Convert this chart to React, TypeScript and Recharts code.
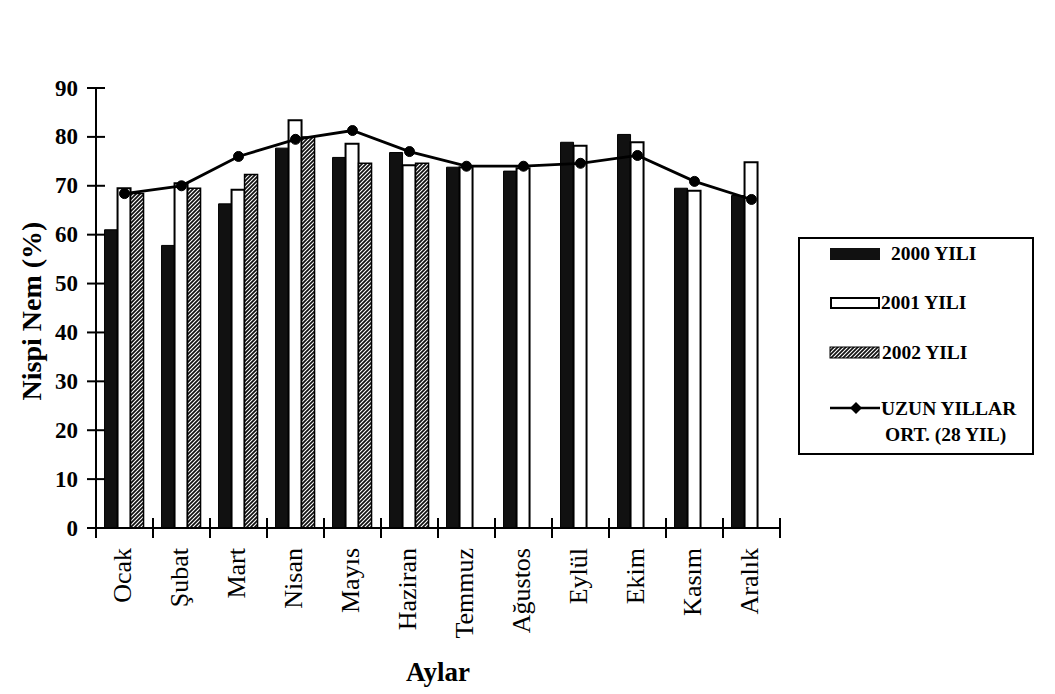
import React from 'react';
import { ComposedChart, Bar, Line, XAxis, YAxis, Legend, Label } from 'recharts';

const months = ['Ocak', 'Şubat', 'Mart', 'Nisan', 'Mayıs', 'Haziran', 'Temmuz', 'Ağustos', 'Eylül', 'Ekim', 'Kasım', 'Aralık'];
const y2000 = [61, 57.8, 66.3, 77.7, 75.8, 76.8, 73.8, 73, 78.9, 80.5, 69.5, 68];
const y2001 = [69.5, 70.5, 69.2, 83.4, 78.6, 74.2, 73.8, 73.6, 78.2, 78.9, 69, 74.8];
const y2002 = [68.4, 69.5, 72.3, 80, 74.6, 74.6, null, null, null, null, null, null];
const longTerm = [68.4, 70, 76, 79.5, 81.3, 77, 74, 74, 74.6, 76.2, 70.9, 67.2];
const yTicks = [0, 10, 20, 30, 40, 50, 60, 70, 80, 90];
const seriesNames = ['2000 YILI', '2001 YILI', '2002 YILI', 'UZUN YILLAR', 'ORT. (28 YIL)'];
const yTitle = 'Nispi Nem (%)';
const xTitle = 'Aylar';

const data = months.map((m, i) => ({ month: m, a: y2000[i], b: y2001[i], c: y2002[i], d: longTerm[i] }));

const FONT = '"Liberation Serif", "Times New Roman", serif';
const W = 1040;
const H = 680;
const M = { top: 80, right: 268, left: 0, bottom: 10 };
const YW = 88;
const XH = 150;
const PLOT_W = W - M.left - M.right - YW;
const BW = PLOT_W / months.length;

const XTick = (props: any) => {
  const { x, y, payload, index } = props;
  const axisY = y - 20;
  const last = index === months.length - 1 || payload.value === months[months.length - 1];
  return (
    <g>
      <line x1={x - BW / 2} x2={x - BW / 2} y1={axisY - 10} y2={axisY + 10} stroke="#000" strokeWidth={2} />
      {last && <line x1={x + BW / 2} x2={x + BW / 2} y1={axisY - 10} y2={axisY + 10} stroke="#000" strokeWidth={2} />}
      <text
        x={x - 2}
        y={y}
        transform={`rotate(-90 ${x - 2} ${y})`}
        textAnchor="end"
        dominantBaseline="central"
        fontSize={26}
        fontFamily={FONT}
        fill="#000"
      >
        {payload.value}
      </text>
    </g>
  );
};

const YTick = (props: any) => {
  const { x, y, payload } = props;
  const ax = x + 18;
  return (
    <g>
      <line x1={ax - 9} x2={ax + 9} y1={y} y2={y} stroke="#000" strokeWidth={2} />
      {payload.value === 0 && <line x1={ax} x2={ax} y1={y} y2={y + 10} stroke="#000" strokeWidth={2} />}
      <text x={x} y={y} textAnchor="end" dominantBaseline="central" fontSize={23} fontWeight="bold" fontFamily={FONT} fill="#000">
        {payload.value}
      </text>
    </g>
  );
};

const LegendBox = () => (
  <div
    style={{
      position: 'relative',
      width: 236,
      height: 218,
      border: '2px solid #000',
      boxSizing: 'border-box',
      fontFamily: FONT,
      fontWeight: 'bold',
      fontSize: 19.5,
      color: '#000',
      lineHeight: '20px',
      whiteSpace: 'nowrap',
    }}
  >
    <svg width={236} height={218} style={{ position: 'absolute', left: -2, top: -2 }}>
      <defs>
        <pattern id="legHatch" patternUnits="userSpaceOnUse" width="4" height="4">
          <rect width="4" height="4" fill="#111" />
          <path d="M-1,1 l2,-2 M0,4 l4,-4 M3,5 l2,-2" stroke="#fff" strokeWidth="1.1" />
        </pattern>
      </defs>
      <rect x={32} y={11} width={50} height={12} fill="#111" />
      <rect x={33} y={61} width={48} height={10} fill="#fff" stroke="#000" strokeWidth={2} />
      <rect x={32} y={110} width={49} height={11} fill="url(#legHatch)" stroke="#000" strokeWidth={1} />
      <line x1={32} x2={82} y1={171} y2={171} stroke="#000" strokeWidth={2.5} />
      <path d="M58,165 L64,171 L58,177 L52,171 Z" fill="#000" />
    </svg>
    <div style={{ position: 'absolute', left: 91, top: 5 }}>{seriesNames[0]}</div>
    <div style={{ position: 'absolute', left: 81, top: 54 }}>{seriesNames[1]}</div>
    <div style={{ position: 'absolute', left: 82, top: 104 }}>{seriesNames[2]}</div>
    <div style={{ position: 'absolute', left: 81, top: 160 }}>{seriesNames[3]}</div>
    <div style={{ position: 'absolute', left: 85, top: 186 }}>{seriesNames[4]}</div>
  </div>
);

export default function App() {
  return (
    <div style={{ width: W, height: H, position: 'relative', background: '#fff' }}>
      <ComposedChart width={W} height={H} data={data} margin={M} barCategoryGap="15%" barGap={0}>
        <defs>
          <pattern id="hatch" patternUnits="userSpaceOnUse" width="4" height="4">
            <rect width="4" height="4" fill="#111" />
            <path d="M-1,1 l2,-2 M0,4 l4,-4 M3,5 l2,-2" stroke="#fff" strokeWidth="1.1" />
          </pattern>
        </defs>
        <XAxis
          dataKey="month"
          height={XH}
          interval={0}
          tickSize={0}
          tickLine={false}
          tickMargin={20}
          tick={<XTick />}
          axisLine={{ stroke: '#000', strokeWidth: 2 }}
        >
          <Label
            content={(p: any) => {
              const vb = p.viewBox;
              return (
                <text x={vb.x + vb.width / 2} y={vb.y + 153} textAnchor="middle" fontSize={27} fontWeight="bold" fontFamily={FONT} fill="#000">
                  {xTitle}
                </text>
              );
            }}
          />
        </XAxis>
        <YAxis
          width={YW}
          domain={[0, 90]}
          ticks={yTicks}
          interval={0}
          tickSize={0}
          tickLine={false}
          tickMargin={18}
          tick={<YTick />}
          axisLine={{ stroke: '#000', strokeWidth: 2 }}
        >
          <Label
            content={(p: any) => {
              const vb = p.viewBox;
              const cx = vb.x + 23;
              const cy = vb.y + vb.height / 2 + 3;
              return (
                <text x={cx} y={cy} transform={`rotate(-90 ${cx} ${cy})`} textAnchor="middle" dominantBaseline="central" fontSize={28} fontWeight="bold" fontFamily={FONT} fill="#000">
                  {yTitle}
                </text>
              );
            }}
          />
        </YAxis>
        <Legend
          layout="horizontal"
          align="center"
          verticalAlign="middle"
          wrapperStyle={{ left: 790, top: 229, width: 236, height: 218 }}
          content={() => <LegendBox />}
        />
        <Bar dataKey="a" name="2000 YILI" fill="#111" stroke="#000" strokeWidth={1} isAnimationActive={false} />
        <Bar dataKey="b" name="2001 YILI" fill="#fff" stroke="#000" strokeWidth={2} isAnimationActive={false} />
        <Bar dataKey="c" name="2002 YILI" fill="url(#hatch)" stroke="#000" strokeWidth={1.5} isAnimationActive={false} />
        <Line
          dataKey="d"
          name="UZUN YILLAR ORT. (28 YIL)"
          type="linear"
          stroke="#000"
          strokeWidth={2.8}
          dot={{ r: 5, fill: '#000', stroke: '#000', strokeWidth: 1 }}
          activeDot={false}
          isAnimationActive={false}
        />
      </ComposedChart>
    </div>
  );
}
